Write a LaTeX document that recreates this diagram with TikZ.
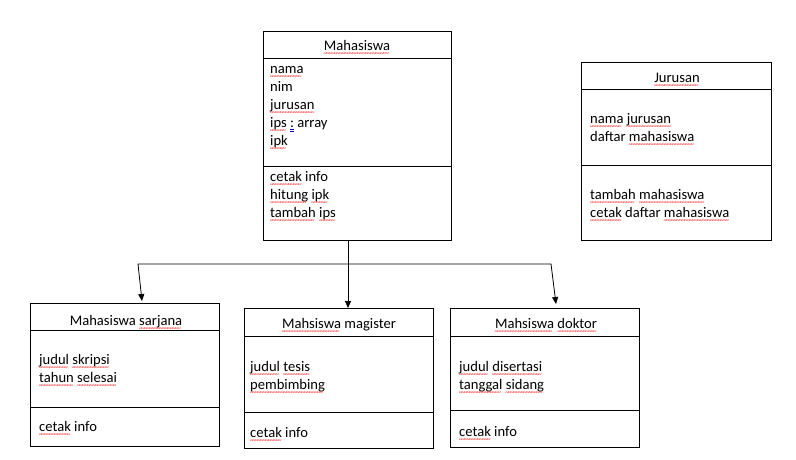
\documentclass[tikz,border=0pt]{standalone}
\usepackage{fontspec}
\setmainfont{Carlito}
\usetikzlibrary{arrows.meta}
\newsavebox\sqbox
\newcommand\sq[1]{\sbox\sqbox{#1}\hbox{\rlap{\usebox\sqbox}\rlap{\raisebox{-5.2pt}{\color{red}\fontsize{7}{7}\selectfont\leaders\hbox{\kern-0.45pt\char"7E\kern-0.45pt}\hskip\wd\sqbox\relax}}\kern\wd\sqbox}}
\newcommand\bdl[1]{\sbox\sqbox{#1}\hbox{\rlap{\usebox\sqbox}\rlap{\color{blue!70!black}\rule[-2.5pt]{\wd\sqbox}{0.5pt}}\rlap{\color{blue!70!black}\rule[-4pt]{\wd\sqbox}{0.5pt}}\kern\wd\sqbox}}
\begin{document}
\begin{tikzpicture}[x=1pt,y=-1pt,
  font=\fontsize{14.6}{18}\selectfont,
  cls/.style={draw, line width=0.8pt, anchor=north west, inner sep=0pt, rectangle},
  sep/.style={line width=0.8pt},
  txt/.style={anchor=base west, inner sep=0pt},
  hdr/.style={anchor=base, inner sep=0pt},
  lnk/.style={line width=0.8pt},
  conn/.style={line width=0.8pt, -{Triangle[length=7pt,width=6pt]}}]
\useasboundingbox[fill=white] (0,0) rectangle (796,459);

% Mahasiswa
\node[cls, minimum width=188pt, minimum height=209pt] (M) at (263,31) {};
\draw[sep] (M.west |- 0,58) -- (M.east |- 0,58);
\draw[sep] (M.west |- 0,166) -- (M.east |- 0,166);
\node[hdr] (Mh) at (357,50) {\sq{Mahasiswa}};
\node[txt] (M1) at (270,73) {\sq{nama}};
\node[txt] (M2) at (270,91) {nim};
\node[txt] (M3) at (270,109) {\sq{jurusan}};
\node[txt] (M4) at (270,127) {\sq{ips}\ \bdl{:} array};
\node[txt] (M5) at (270,145) {\sq{ipk}};
\node[txt] (M6) at (270,181) {\sq{cetak} info};
\node[txt] (M7) at (270,199) {\sq{hitung} \sq{ipk}};
\node[txt] (M8) at (270,217) {\sq{tambah} \sq{ips}};

% Jurusan
\node[cls, minimum width=190pt, minimum height=178pt] (J) at (581,62) {};
\draw[sep] (J.west |- 0,89) -- (J.east |- 0,89);
\draw[sep] (J.west |- 0,165) -- (J.east |- 0,165);
\node[hdr] (Jh) at (677,82) {\sq{Jurusan}};
\node[txt] (J1) at (590,123) {\sq{nama} \sq{jurusan}};
\node[txt] (J2) at (590,141) {daftar \sq{mahasiswa}};
\node[txt] (J3) at (590,199) {\sq{tambah} \sq{mahasiswa}};
\node[txt] (J4) at (590,217) {\sq{cetak} daftar \sq{mahasiswa}};

% Mahasiswa sarjana
\node[cls, minimum width=189pt, minimum height=143pt] (S) at (30,303) {};
\draw[sep] (S.west |- 0,330) -- (S.east |- 0,330);
\draw[sep] (S.west |- 0,407) -- (S.east |- 0,407);
\node[hdr] (Sh) at (126,325) {Mahasiswa \sq{sarjana}};
\node[txt] (S1) at (39,364) {\sq{judul} \sq{skripsi}};
\node[txt] (S2) at (39,382) {\sq{tahun} \sq{selesai}};
\node[txt] (S3) at (39,431) {\sq{cetak} info};

% Mahsiswa magister
\node[cls, minimum width=189pt, minimum height=140pt] (G) at (244,308) {};
\draw[sep] (G.west |- 0,336) -- (G.east |- 0,336);
\draw[sep] (G.west |- 0,412) -- (G.east |- 0,412);
\node[hdr] (Gh) at (339,328) {\sq{Mahsiswa} magister};
\node[txt] (G1) at (250,371) {\sq{judul} \sq{tesis}};
\node[txt] (G2) at (250,389) {\sq{pembimbing}};
\node[txt] (G3) at (250,437) {\sq{cetak} info};

% Mahsiswa doktor
\node[cls, minimum width=189pt, minimum height=139pt] (D) at (450,308) {};
\draw[sep] (D.west |- 0,336) -- (D.east |- 0,336);
\draw[sep] (D.west |- 0,410) -- (D.east |- 0,410);
\node[hdr] (Dh) at (546,328) {\sq{Mahsiswa} \sq{doktor}};
\node[txt] (D1) at (459,371) {\sq{judul} \sq{disertasi}};
\node[txt] (D2) at (459,389) {\sq{tanggal} \sq{sidang}};
\node[txt] (D3) at (459,436) {\sq{cetak} info};

% connectors
\coordinate (j) at (348,264);
\coordinate (jl) at (138,264);
\coordinate (jr) at (551,264);
\coordinate (tl) at (142,301);
\coordinate (tr) at (556,304);
\draw[lnk] (M.south -| j) -- (j);
\draw[conn] (j) -- (G.north -| j);
\draw[conn] (j) -- (jl) -- (tl);
\draw[conn] (j) -- (jr) -- (tr);
\end{tikzpicture}
\end{document}
